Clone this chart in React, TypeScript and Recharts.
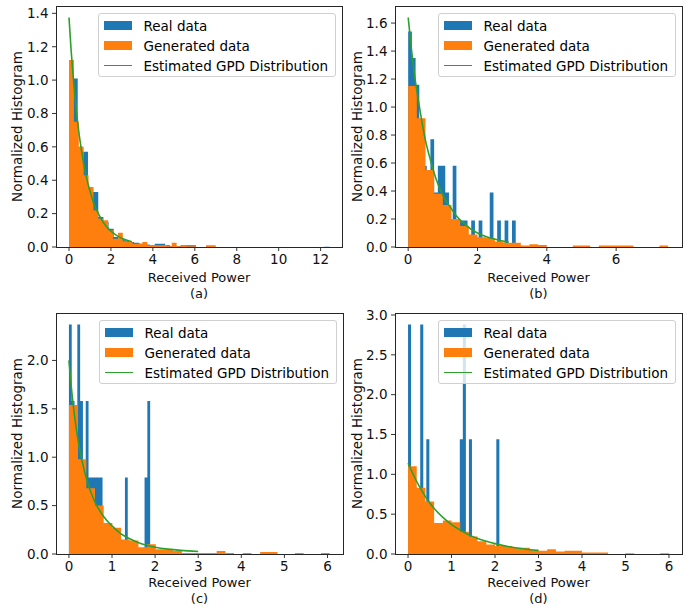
import React from "react";
import { ComposedChart, Area, Line, XAxis, YAxis, Label } from "recharts";

// ---- (a) ----
const realStartA = 0.17;
const realWidthA = 0.245;
const realBinsA = [
  1.01, 0.6, 0.57, 0.36, 0.33, 0.18, 0.15, 0.11, 0.06, 0.05, 0.04, 0.03, 0.025, 0.02, 0.015, 0.01,
  0.02, 0.02, 0.01, 0.005, 0.005, 0.01, 0.01, 0.01, 0, 0, 0, 0, 0, 0, 0, 0, 0, 0, 0, 0, 0, 0, 0, 0,
  0, 0, 0, 0, 0, 0, 0, 0, 0, 0.002,
];
const genStartA = 0;
const genWidthA = 0.2333;
const genBinsA = [
  1.12, 0.75, 0.6, 0.43, 0.36, 0.22, 0.17, 0.16, 0.1, 0.05, 0.085, 0.035, 0.03, 0.02, 0.02, 0.03,
  0.01, 0.01, 0.01, 0.01, 0.005, 0.025, 0.005, 0.01, 0.005, 0.005, 0, 0, 0.01, 0.01,
];
const gpdXA = [0, 0.1, 0.2, 0.3, 0.4, 0.5, 0.6, 0.8, 1.0, 1.2, 1.4, 1.6, 1.8, 2.0, 2.3, 2.6, 3.0];
const gpdYA = [1.375, 1.18, 1.02, 0.88, 0.76, 0.66, 0.575, 0.435, 0.335, 0.255, 0.2, 0.155, 0.12, 0.095, 0.067, 0.048, 0.031];

// ---- (b) ----
const realStartB = 0;
const realWidthB = 0.107;
const realBinsB = [
  1.54, 1.35, 1.16, 0.77, 0.58, 0.39, 0.77, 0.39, 0.58, 0.58, 0.39, 0.19, 0.58, 0.19, 0.19, 0.19,
  0, 0.19, 0, 0.19, 0, 0, 0.39, 0, 0.19, 0, 0.19, 0, 0.19, 0,
];
const genStartB = 0;
const genWidthB = 0.25;
const genBinsB = [
  1.15, 0.92, 0.55, 0.38, 0.3, 0.2, 0.15, 0.09, 0.07, 0.065, 0.04, 0.03, 0.03, 0.01, 0.02, 0.015,
  0, 0, 0, 0.01, 0.01, 0, 0.01, 0.01, 0.01, 0.01, 0, 0, 0, 0.01,
];
const gpdXB = [0, 0.1, 0.2, 0.3, 0.4, 0.5, 0.6, 0.8, 1.0, 1.2, 1.4, 1.6, 1.8, 2.0, 2.3, 2.6, 2.9];
const gpdYB = [1.64, 1.4, 1.2, 1.04, 0.89, 0.76, 0.66, 0.49, 0.37, 0.29, 0.22, 0.17, 0.13, 0.1, 0.07, 0.05, 0.035];

// ---- (c) ----
const realStartC = 0;
const realWidthC = 0.065;
const realBinsC = [
  2.37, 1.58, 0.79, 2.37, 1.58, 0.79, 1.58, 0.79, 0.79, 0.79, 0.79, 0.79, 0, 0, 0, 0, 0, 0, 0, 0,
  0.79, 0, 0, 0, 0, 0, 0, 0.79, 1.58, 0,
];
const genStartC = 0;
const genWidthC = 0.2017;
const genBinsC = [
  1.54, 0.98, 0.68, 0.5, 0.32, 0.27, 0.15, 0.14, 0.07, 0.1, 0.05, 0.05, 0.03, 0.01, 0.01, 0.01,
  0.01, 0.03, 0.01, 0, 0.01, 0, 0.02, 0.02, 0, 0, 0.01, 0, 0, 0.01,
];
const gpdXC = [0, 0.05, 0.1, 0.15, 0.2, 0.3, 0.4, 0.5, 0.6, 0.8, 1.0, 1.2, 1.4, 1.6, 1.8, 2.0, 2.3, 2.6, 3.0];
const gpdYC = [2.0, 1.75, 1.54, 1.36, 1.21, 0.97, 0.79, 0.65, 0.54, 0.39, 0.29, 0.21, 0.16, 0.12, 0.09, 0.07, 0.05, 0.037, 0.026];

// ---- (d) ----
const realStartD = 0;
const realWidthD = 0.07;
const realBinsD = [
  2.88, 0, 0, 0, 2.88, 0, 1.44, 0, 0, 0, 0, 0, 0, 0, 0, 0, 0, 1.44, 2.88, 0, 1.44, 0, 0, 0, 0, 0,
  0, 0, 0, 1.44,
];
const genStartD = 0;
const genWidthD = 0.2;
const genBinsD = [
  1.1, 0.83, 0.66, 0.39, 0.42, 0.4, 0.28, 0.22, 0.16, 0.12, 0.1, 0.1, 0.08, 0.08, 0.05, 0.04, 0.06,
  0.03, 0.04, 0.04, 0.02, 0.02, 0.02, 0, 0, 0.01, 0, 0, 0, 0.01,
];
const gpdXD = [0, 0.1, 0.2, 0.3, 0.4, 0.5, 0.6, 0.8, 1.0, 1.2, 1.4, 1.6, 1.8, 2.0, 2.3, 2.6, 3.0];
const gpdYD = [1.14, 1.02, 0.91, 0.81, 0.72, 0.64, 0.57, 0.46, 0.37, 0.3, 0.24, 0.195, 0.16, 0.13, 0.095, 0.07, 0.045];

const legendLabels = ["Real data", "Generated data", "Estimated GPD Distribution"];

const BLUE = "#1f77b4";
const ORANGE = "#ff7f0e";
const GREEN = "#2ca02c";
const FONT = "'DejaVu Sans', sans-serif";

type Pt = { x: number; y: number };

// histogram bins -> step points (last edge drops to 0)
const toSteps = (start: number, width: number, heights: number[]): Pt[] => {
  const pts = heights.map((h, i) => ({ x: start + i * width, y: h }));
  pts.push({ x: start + heights.length * width, y: 0 });
  return pts;
};
const toLine = (xs: number[], ys: number[]): Pt[] => xs.map((x, i) => ({ x, y: ys[i] }));

interface PanelProps {
  left: number;
  top: number;
  width: number;
  height: number;
  marginTop: number;
  marginRight: number;
  yAxisWidth: number;
  xDomain: [number, number];
  xTicks: number[];
  yDomain: [number, number];
  yTicks: number[];
  real: Pt[];
  generated: Pt[];
  gpd: Pt[];
  tag: string;
  yLabelOffset: number;
  xLabelOffset: number;
  tagOffset: number;
}

const X_AXIS_H = 53;

const Legend: React.FC<{ right: number; top: number }> = ({ right, top }) => (
  <div
    style={{
      position: "absolute",
      left: right - 238,
      top,
      width: 238,
      height: 64,
      boxSizing: "border-box",
      border: "1px solid #d0d0d0",
      borderRadius: 3,
      background: "rgba(255,255,255,0.8)",
      fontFamily: FONT,
      fontSize: 13.5,
      color: "#000",
    }}
  >
    {legendLabels.map((name, i) => (
      <div key={name} style={{ position: "absolute", left: 0, top: 1.7 + i * 20, height: 20, width: "100%" }}>
        {i < 2 ? (
          <div
            style={{
              position: "absolute",
              left: 5,
              top: 5.3,
              width: 28,
              height: 9.5,
              background: i === 0 ? BLUE : ORANGE,
            }}
          />
        ) : (
          <div style={{ position: "absolute", left: 5, top: 9.2, width: 28, height: 1.6, background: GREEN }} />
        )}
        <div style={{ position: "absolute", left: 45, top: 1, lineHeight: "18px", whiteSpace: "nowrap" }}>{name}</div>
      </div>
    ))}
  </div>
);

const Panel: React.FC<PanelProps> = (p) => {
  const plotLeft = p.yAxisWidth;
  const plotRight = p.width - p.marginRight;
  const plotTop = p.marginTop;
  const plotBottom = p.height - X_AXIS_H;
  const tickStyle = { fontSize: 13.5, fill: "#111", fontFamily: FONT };
  const labelStyle = { fontSize: 13, fill: "#111", fontFamily: FONT };
  return (
    <div style={{ position: "absolute", left: p.left, top: p.top, width: p.width, height: p.height }}>
      <ComposedChart
        width={p.width}
        height={p.height}
        margin={{ top: p.marginTop, right: p.marginRight, bottom: 0, left: 0 }}
      >
        <XAxis
          type="number"
          dataKey="x"
          domain={p.xDomain}
          ticks={p.xTicks}
          allowDataOverflow
          height={X_AXIS_H}
          axisLine={false}
          tickSize={4}
          tickMargin={3.5}
          tickLine={{ stroke: "#000", strokeWidth: 0.8 }}
          tick={tickStyle}
        >
          <Label value="Received Power" position="insideBottom" offset={p.xLabelOffset} style={labelStyle} />
          <Label value={p.tag} position="insideBottom" offset={p.tagOffset} style={labelStyle} />
        </XAxis>
        <YAxis
          type="number"
          domain={p.yDomain}
          ticks={p.yTicks}
          allowDataOverflow
          width={p.yAxisWidth}
          axisLine={false}
          tickSize={4}
          tickMargin={3.5}
          tickLine={{ stroke: "#000", strokeWidth: 0.8 }}
          tick={tickStyle}
          tickFormatter={(v: number) => v.toFixed(1)}
        >
          <Label
            value="Normalized Histogram"
            angle={-90}
            position="insideLeft"
            offset={p.yLabelOffset}
            style={{ ...labelStyle, fontSize: 13.5, textAnchor: "middle" }}
          />
        </YAxis>
        <Area
          data={p.real}
          dataKey="y"
          type="stepAfter"
          stroke="none"
          fill={BLUE}
          fillOpacity={1}
          isAnimationActive={false}
        />
        <Area
          data={p.generated}
          dataKey="y"
          type="stepAfter"
          stroke="none"
          fill={ORANGE}
          fillOpacity={1}
          isAnimationActive={false}
        />
        <Line
          data={p.gpd}
          dataKey="y"
          type="monotone"
          stroke={GREEN}
          strokeWidth={1.6}
          dot={false}
          isAnimationActive={false}
        />
      </ComposedChart>
      <div
        style={{
          position: "absolute",
          left: plotLeft - 0.5,
          top: plotTop - 0.5,
          width: plotRight - plotLeft + 1,
          height: plotBottom - plotTop + 1,
          boxSizing: "border-box",
          border: "1px solid #262626",
          pointerEvents: "none",
        }}
      />
      <Legend right={plotRight - 6.5} top={plotTop + 7} />
    </div>
  );
};

const App: React.FC = () => (
  <div style={{ position: "absolute", left: 0, top: 0, width: 694, height: 607, background: "#fff", fontFamily: FONT }}>
    <Panel
      left={0}
      top={0}
      width={347}
      height={300}
      marginTop={6}
      marginRight={5}
      yAxisWidth={56}
      xDomain={[-0.62, 13.02]}
      xTicks={[0, 2, 4, 6, 8, 10, 12]}
      yDomain={[0, 1.444]}
      yTicks={[0, 0.2, 0.4, 0.6, 0.8, 1.0, 1.2, 1.4]}
      real={toSteps(realStartA, realWidthA, realBinsA)}
      generated={toSteps(genStartA, genWidthA, genBinsA)}
      gpd={toLine(gpdXA, gpdYA)}
      tag="(a)"
      yLabelOffset={17.5}
      xLabelOffset={18.5}
      tagOffset={2.5}
    />
    <Panel
      left={347}
      top={0}
      width={347}
      height={300}
      marginTop={6}
      marginRight={12}
      yAxisWidth={48}
      xDomain={[-0.38, 7.9]}
      xTicks={[0, 2, 4, 6]}
      yDomain={[0, 1.722]}
      yTicks={[0, 0.2, 0.4, 0.6, 0.8, 1.0, 1.2, 1.4, 1.6]}
      real={toSteps(realStartB, realWidthB, realBinsB)}
      generated={toSteps(genStartB, genWidthB, genBinsB)}
      gpd={toLine(gpdXB, gpdYB)}
      tag="(b)"
      yLabelOffset={10.5}
      xLabelOffset={18.5}
      tagOffset={2.5}
    />
    <Panel
      left={0}
      top={300}
      width={347}
      height={307}
      marginTop={13}
      marginRight={4}
      yAxisWidth={56}
      xDomain={[-0.3, 6.36]}
      xTicks={[0, 1, 2, 3, 4, 5, 6]}
      yDomain={[0, 2.49]}
      yTicks={[0, 0.5, 1.0, 1.5, 2.0]}
      real={toSteps(realStartC, realWidthC, realBinsC)}
      generated={toSteps(genStartC, genWidthC, genBinsC)}
      gpd={toLine(gpdXC, gpdYC)}
      tag="(c)"
      yLabelOffset={17.5}
      xLabelOffset={20.5}
      tagOffset={4}
    />
    <Panel
      left={347}
      top={300}
      width={347}
      height={307}
      marginTop={13}
      marginRight={12}
      yAxisWidth={48}
      xDomain={[-0.3, 6.3]}
      xTicks={[0, 1, 2, 3, 4, 5, 6]}
      yDomain={[0, 3.025]}
      yTicks={[0, 0.5, 1.0, 1.5, 2.0, 2.5, 3.0]}
      real={toSteps(realStartD, realWidthD, realBinsD)}
      generated={toSteps(genStartD, genWidthD, genBinsD)}
      gpd={toLine(gpdXD, gpdYD)}
      tag="(d)"
      yLabelOffset={10.5}
      xLabelOffset={20.5}
      tagOffset={4}
    />
  </div>
);

export default App;
